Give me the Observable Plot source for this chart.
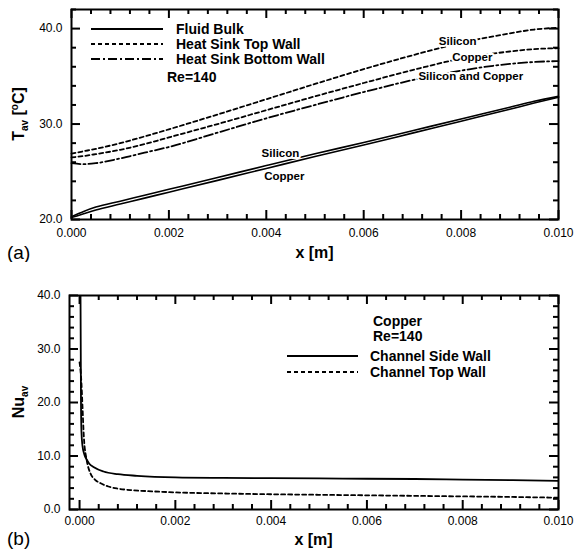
<!DOCTYPE html>
<html><head><meta charset="utf-8">
<script src="https://cdn.jsdelivr.net/npm/d3@7"></script>
<script src="https://cdn.jsdelivr.net/npm/@observablehq/plot@0.6"></script>
<style>
body{margin:0;background:#fff;}
#wrap{position:relative;width:574px;height:552px;background:#fff;}
#wrap svg{position:absolute;left:0;}
</style></head><body><div id="wrap"></div>
<script>
// ---------- Data (a) ----------
const xTop = [0, 0.00025, 0.0005, 0.001, 0.0015, 0.002, 0.003, 0.004, 0.005, 0.006, 0.007, 0.008, 0.009, 0.0095, 0.010];
const fluidSilicon   = [20.3, 20.85, 21.3, 21.92, 22.54, 23.16, 24.4, 25.65, 26.88, 28.07, 29.3, 30.53, 31.75, 32.38, 32.9];
const fluidCopper    = [20.2, 20.6, 21.0, 21.62, 22.24, 22.86, 24.1, 25.35, 26.6, 27.8, 29.05, 30.3, 31.55, 32.2, 32.8];
const topWallSilicon = [26.9, 27.15, 27.4, 28.0, 28.7, 29.45, 31.0, 32.6, 34.2, 35.75, 37.2, 38.5, 39.5, 39.9, 40.1];
const topWallCopper  = [26.5, 26.65, 26.85, 27.3, 27.9, 28.6, 30.0, 31.45, 32.9, 34.3, 35.65, 36.85, 37.6, 37.85, 37.95];
const bottomWall     = [25.9, 25.8, 25.9, 26.4, 27.0, 27.6, 29.1, 30.6, 32.0, 33.35, 34.6, 35.6, 36.3, 36.5, 36.6];

const annoTextA = ["Silicon", "Copper", "Silicon and Copper", "Silicon", "Copper"];
const annoXA    = [0.00793, 0.00823, 0.0082, 0.00429, 0.00437];
const annoYA    = [38.7, 36.95, 35.0, 26.9, 24.5];

const legendA = ["Fluid Bulk", "Heat Sink Top Wall", "Heat Sink Bottom Wall"];

// ---------- Data (b) ----------
const xNuSide = [0.00001, 0.00002, 0.00003, 0.00004, 0.00006, 0.0001, 0.00015, 0.0002, 0.0003, 0.0005, 0.0008, 0.0012, 0.002, 0.003, 0.004, 0.005, 0.006, 0.007, 0.008, 0.009, 0.010];
const nuSide  = [80, 40, 20, 14.5, 12, 10.3, 9.3, 8.6, 7.9, 7.1, 6.6, 6.3, 6.0, 5.9, 5.85, 5.8, 5.75, 5.7, 5.6, 5.5, 5.35];
const xNuTop  = [0, 0.00002, 0.00004, 0.00006, 0.00009, 0.00015, 0.00023, 0.00032, 0.00044, 0.0006, 0.0008, 0.0011, 0.0015, 0.002, 0.003, 0.004, 0.005, 0.006, 0.007, 0.008, 0.009, 0.010];
const nuTop   = [27.5, 26, 23.5, 19.5, 13.5, 9.2, 6.7, 5.6, 4.9, 4.3, 3.9, 3.6, 3.4, 3.2, 3.0, 2.85, 2.75, 2.65, 2.55, 2.45, 2.35, 2.2];
const legendB = ["Channel Side Wall", "Channel Top Wall"];
const noteB = ["Copper", "Re=140"];

// ---------- Ticks ----------
const xTicks = [0, 0.002, 0.004, 0.006, 0.008, 0.010];
const xTickLabels = ["0.000", "0.002", "0.004", "0.006", "0.008", "0.010"];
const xMinor = [0.0004, 0.0008, 0.0012, 0.0016, 0.0024, 0.0028, 0.0032, 0.0036, 0.0044, 0.0048, 0.0052, 0.0056, 0.0064, 0.0068, 0.0072, 0.0076, 0.0084, 0.0088, 0.0092, 0.0096];
const yTicksA = [20, 30, 40];
const yTickLabelsA = ["20.0", "30.0", "40.0"];
const yMinorA = [22, 24, 26, 28, 32, 34, 36, 38, 42];
const yTicksB = [0, 10, 20, 30, 40];
const yTickLabelsB = ["0.0", "10.0", "20.0", "30.0", "40.0"];
const yMinorB = [2, 4, 6, 8, 12, 14, 16, 18, 22, 24, 26, 28, 32, 34, 36, 38];

const FONT = "'Liberation Sans', Arial, sans-serif";
const DASH = "4,3";
const DASHDOT = "9,3,2,3";

function series(xs, ys) { return xs.map((x, i) => ({x, y: ys[i]})); }

// inward frame ticks on all four sides, in data space through Plot's scales
function tickMarks(xMaj, xMin, yMaj, yMin, xd, yd, fw, fh) {
  const ux = (xd[1] - xd[0]) / fw, uy = (yd[1] - yd[0]) / fh;
  const o = {stroke: "black", strokeWidth: 2};
  const marks = [];
  for (const [arr, L] of [[xMaj, 9], [xMin, 5]]) {
    marks.push(Plot.ruleX(arr, {x: d => d, y1: yd[0], y2: yd[0] + L * uy, ...o}));
    marks.push(Plot.ruleX(arr, {x: d => d, y1: yd[1] - L * uy, y2: yd[1], ...o}));
  }
  for (const [arr, L] of [[yMaj, 9], [yMin, 5]]) {
    marks.push(Plot.ruleY(arr, {y: d => d, x1: xd[0], x2: xd[0] + L * ux, ...o}));
    marks.push(Plot.ruleY(arr, {y: d => d, x1: xd[1] - L * ux, x2: xd[1], ...o}));
  }
  return marks;
}

const wrap = d3.select("#wrap");

// ---------- Chart (a) ----------
{
  const W = 574, H = 262, mL = 71, mR = 16, mT = 9, mB = 43;
  const fw = W - mL - mR, fh = H - mT - mB;
  const xd = [0, 0.010], yd = [20, 42];
  const chart = Plot.plot({
    width: W, height: H, marginLeft: mL, marginRight: mR, marginTop: mT, marginBottom: mB,
    style: {fontFamily: FONT, fontSize: "12px", background: "white", overflow: "visible"},
    x: {domain: xd},
    y: {domain: yd},
    marks: [
      ...tickMarks(xTicks, xMinor, yTicksA, yMinorA, xd, yd, fw, fh),
      Plot.line(series(xTop, fluidSilicon), {x: "x", y: "y", stroke: "black", strokeWidth: 1.6, curve: "monotone-x"}),
      Plot.line(series(xTop, fluidCopper), {x: "x", y: "y", stroke: "black", strokeWidth: 1.6, curve: "monotone-x"}),
      Plot.line(series(xTop, topWallSilicon), {x: "x", y: "y", stroke: "black", strokeWidth: 1.8, strokeDasharray: DASH, curve: "monotone-x"}),
      Plot.line(series(xTop, topWallCopper), {x: "x", y: "y", stroke: "black", strokeWidth: 1.8, strokeDasharray: DASH, curve: "monotone-x"}),
      Plot.line(series(xTop, bottomWall), {x: "x", y: "y", stroke: "black", strokeWidth: 1.8, strokeDasharray: DASHDOT, curve: "monotone-x"}),
      Plot.text(annoTextA, {x: (d, i) => annoXA[i], y: (d, i) => annoYA[i], text: d => d, fontWeight: "bold", fontSize: 11.5, fill: "black", stroke: "white", strokeWidth: 4, paintOrder: "stroke"}),
      Plot.axisX(xTicks, {tickSize: 0, tickPadding: 9, tickFormat: d => xTickLabels[xTicks.indexOf(d)], label: null}),
      Plot.axisY(yTicksA, {tickSize: 0, tickPadding: 9, tickFormat: d => yTickLabelsA[yTicksA.indexOf(d)], label: null}),
      Plot.frame({stroke: "black", strokeWidth: 2})
    ]
  });
  const svg = d3.select(chart);
  svg.style("top", "0px");
  const g = svg.append("g").style("font-family", FONT).attr("text-anchor", "start");
  const ly = [29, 44, 59];
  const dashes = [null, DASH, DASHDOT];
  legendA.forEach((t, i) => {
    g.append("line").attr("x1", 91).attr("x2", 163).attr("y1", ly[i]).attr("y2", ly[i])
      .attr("stroke", "black").attr("stroke-width", 1.8).attr("stroke-dasharray", dashes[i]);
    g.append("text").attr("x", 176).attr("y", ly[i] + 5).attr("font-size", 14).attr("font-weight", "bold").text(t);
  });
  g.append("text").attr("x", 167).attr("y", 82).attr("font-size", 14).attr("font-weight", "bold").text("Re=140");
  g.append("text").attr("x", (mL + W - mR) / 2).attr("y", 258).attr("text-anchor", "middle")
    .attr("font-size", 16).attr("font-weight", "bold").text("x [m]");
  g.append("text").attr("x", 7).attr("y", 259).attr("font-size", 19).text("(a)");
  const yt = g.append("text").attr("transform", `translate(24,${mT + fh / 2}) rotate(-90)`)
    .attr("text-anchor", "middle").attr("font-size", 16).attr("font-weight", "bold");
  yt.append("tspan").text("T");
  yt.append("tspan").attr("font-size", 10).attr("dy", 4).text("av");
  yt.append("tspan").attr("dy", -4).text(" [");
  yt.append("tspan").attr("font-size", 10).attr("dy", -6).text("o");
  yt.append("tspan").attr("dy", 6).text("C]");
  wrap.node().appendChild(chart);
}

// ---------- Chart (b) ----------
{
  const W = 574, H = 290, mL = 69, mR = 16, mT = 33, mB = 43;
  const fw = W - mL - mR, fh = H - mT - mB;
  const xd = [-0.00021, 0.010], yd = [0, 40];
  const chart = Plot.plot({
    width: W, height: H, marginLeft: mL, marginRight: mR, marginTop: mT, marginBottom: mB,
    style: {fontFamily: FONT, fontSize: "12px", background: "white", overflow: "visible"},
    x: {domain: xd},
    y: {domain: yd},
    marks: [
      ...tickMarks(xTicks, xMinor, yTicksB, yMinorB, xd, yd, fw, fh),
      Plot.line(series(xNuSide, nuSide), {x: "x", y: "y", stroke: "black", strokeWidth: 1.8, curve: "monotone-x", clip: true}),
      Plot.line(series(xNuTop, nuTop), {x: "x", y: "y", stroke: "black", strokeWidth: 1.8, strokeDasharray: DASH, curve: "monotone-x", clip: true}),
      Plot.axisX(xTicks, {tickSize: 0, tickPadding: 7, tickFormat: d => xTickLabels[xTicks.indexOf(d)], label: null}),
      Plot.axisY(yTicksB, {tickSize: 0, tickPadding: 9, tickFormat: d => yTickLabelsB[yTicksB.indexOf(d)], label: null}),
      Plot.frame({stroke: "black", strokeWidth: 2})
    ]
  });
  const svg = d3.select(chart);
  svg.style("top", "262px");
  const g = svg.append("g").style("font-family", FONT).attr("text-anchor", "start");
  g.append("text").attr("x", 373).attr("y", 64).attr("font-size", 14).attr("font-weight", "bold").text(noteB[0]);
  g.append("text").attr("x", 373).attr("y", 79).attr("font-size", 14).attr("font-weight", "bold").text(noteB[1]);
  const ly = [94, 110];
  const dashes = [null, DASH];
  legendB.forEach((t, i) => {
    g.append("line").attr("x1", 287).attr("x2", 358).attr("y1", ly[i]).attr("y2", ly[i])
      .attr("stroke", "black").attr("stroke-width", 1.8).attr("stroke-dasharray", dashes[i]);
    g.append("text").attr("x", 370).attr("y", ly[i] + 4.5).attr("font-size", 14).attr("font-weight", "bold").text(t);
  });
  g.append("text").attr("x", (mL + W - mR) / 2).attr("y", 283).attr("text-anchor", "middle")
    .attr("font-size", 16).attr("font-weight", "bold").text("x [m]");
  g.append("text").attr("x", 7).attr("y", 283).attr("font-size", 19).text("(b)");
  const yt = g.append("text").attr("transform", `translate(24,${mT + fh / 2}) rotate(-90)`)
    .attr("text-anchor", "middle").attr("font-size", 16).attr("font-weight", "bold");
  yt.append("tspan").text("Nu");
  yt.append("tspan").attr("font-size", 10).attr("dy", 4).text("av");
  wrap.node().appendChild(chart);
}
</script>
</body></html>
